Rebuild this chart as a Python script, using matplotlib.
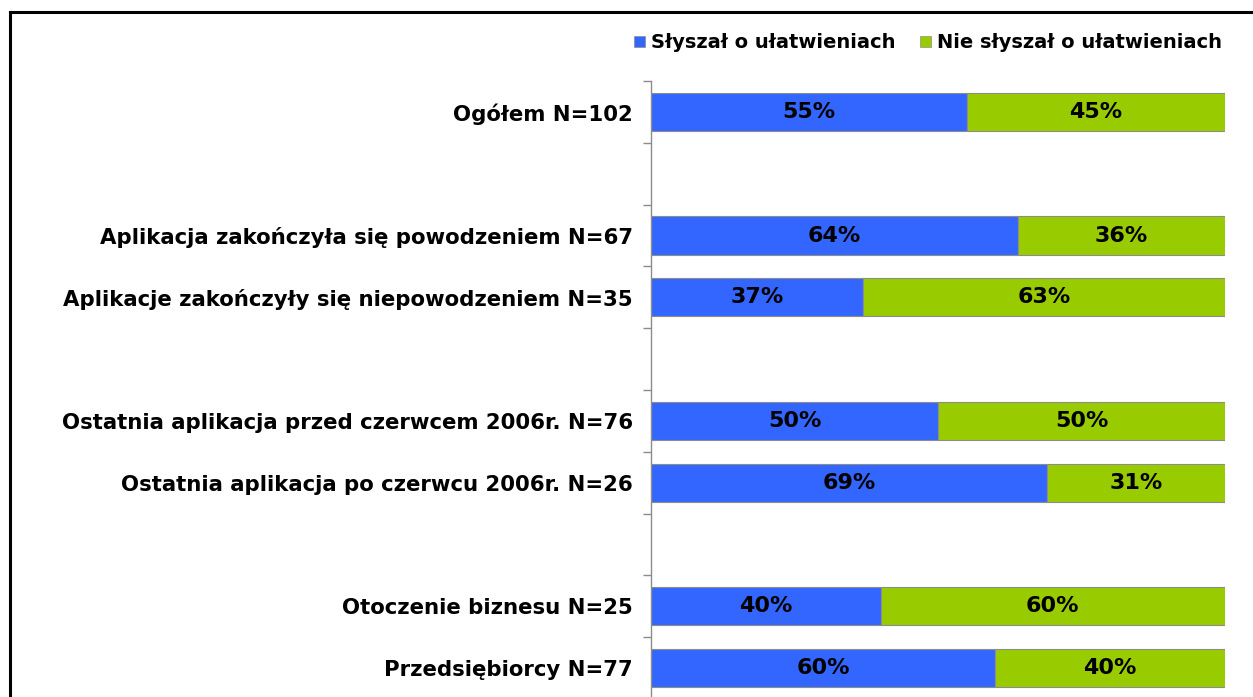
import matplotlib.pyplot as plt
from matplotlib.patches import Patch
from matplotlib.lines import Line2D

plt.rcParams['font.family'] = ['DejaVu Sans']

# slots from top to bottom; empty strings are blank spacer rows
categories = ['Ogółem N=102', '',
              'Aplikacja zakończyła się powodzeniem N=67',
              'Aplikacje zakończyły się niepowodzeniem N=35', '',
              'Ostatnia aplikacja przed czerwcem 2006r. N=76',
              'Ostatnia aplikacja po czerwcu 2006r. N=26', '',
              'Otoczenie biznesu N=25',
              'Przedsiębiorcy N=77']
heard = [55, None, 64, 37, None, 50, 69, None, 40, 60]
not_heard = [45, None, 36, 63, None, 50, 31, None, 60, 40]
series_names = ['Słyszał o ułatwieniach', 'Nie słyszał o ułatwieniach']

BLUE = '#3366FF'
GREEN = '#99CC00'

W, H = 1253, 697
fig = plt.figure(figsize=(W / 100, H / 100), dpi=100)

ax = fig.add_axes([651 / W, (H - 699) / H, (1225 - 651) / W, (699 - 81) / H])

for i, (a, b) in enumerate(zip(heard, not_heard)):
    if a is None:
        continue
    ax.barh(i, a, height=0.62, color=BLUE, edgecolor='#8c8c8c', linewidth=0.8)
    ax.barh(i, b, left=a, height=0.62, color=GREEN, edgecolor='#8c8c8c', linewidth=0.8)
    ax.text(a / 2, i, f'{a}%', ha='center', va='center',
            fontsize=16, fontweight='bold', color='black')
    ax.text(a + b / 2, i, f'{b}%', ha='center', va='center',
            fontsize=16, fontweight='bold', color='black')

ax.set_xlim(0, 100)
ax.set_ylim(len(categories) - 0.5, -0.5)

ax.set_yticks(range(len(categories)))
ax.set_yticklabels(categories, fontsize=15.3, fontweight='bold')
ax.set_yticks([i - 0.5 for i in range(len(categories) + 1)], minor=True)
ax.tick_params(axis='y', which='major', length=0, pad=13)
ax.tick_params(axis='y', which='minor', length=6, color='#8c8c8c', width=1)
ax.set_xticks([])

for s in ['top', 'right', 'bottom']:
    ax.spines[s].set_visible(False)
ax.spines['left'].set_color('#8c8c8c')
ax.spines['left'].set_linewidth(1)

handles = [Patch(facecolor=BLUE, edgecolor='#8c8c8c', linewidth=0.5),
           Patch(facecolor=GREEN, edgecolor='#8c8c8c', linewidth=0.5)]
fig.legend(handles, series_names, loc='center', ncol=2,
           bbox_to_anchor=(928 / W, 1 - 43 / H), frameon=False,
           prop={'weight': 'bold', 'size': 14}, handlelength=0.55,
           handleheight=0.55, handletextpad=0.3, columnspacing=1.3)

# outer frame (top and left edges visible)
fig.add_artist(Line2D([9.5 / W, 9.5 / W], [0, 1 - 11.5 / H], color='black',
                      linewidth=2.2, transform=fig.transFigure))
fig.add_artist(Line2D([9.5 / W, 1], [1 - 11.5 / H, 1 - 11.5 / H], color='black',
                      linewidth=2.2, transform=fig.transFigure))

fig.savefig('out.png', dpi=100)
